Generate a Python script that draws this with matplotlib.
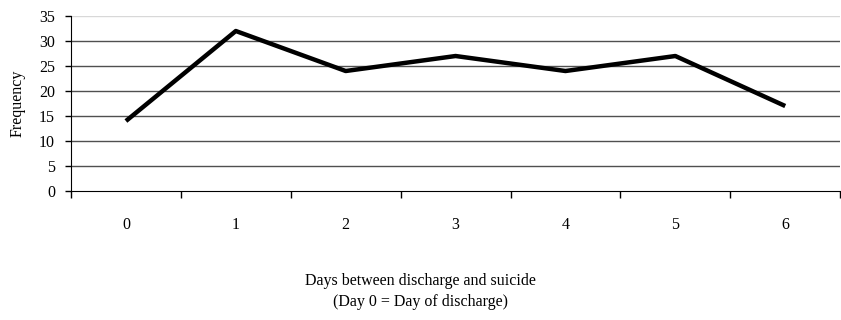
import matplotlib.pyplot as plt

plt.rcParams['font.family'] = ['Liberation Serif', 'DejaVu Serif']

# datos
dias = ["0", "1", "2", "3", "4", "5", "6"]
frecuencia = [14, 32, 24, 27, 24, 27, 17]
y_ticks = [0, 5, 10, 15, 20, 25, 30, 35]

fig = plt.figure(figsize=(8.41, 3.20), dpi=100)
ax = fig.add_axes([0.0844, 0.403, 0.9146, 0.547])

x = list(range(len(dias)))

# lineas de la grilla
for v in y_ticks[1:]:
    color = "#d8d8d8" if v == y_ticks[-1] else "#505050"
    ax.axhline(v, color=color, lw=1.0, zorder=1)

ax.plot(x, frecuencia, color="black", lw=3.2, solid_capstyle="butt", zorder=3)

ax.set_xlim(-0.5, len(dias) - 0.5)
ax.set_ylim(0, 35)
ax.set_yticks(y_ticks)
ax.set_yticklabels([str(v) for v in y_ticks], fontsize=11.5)

# ticks del eje x entre categorias
ax.set_xticks([i - 0.5 for i in range(len(dias) + 1)])
ax.set_xticklabels([])
ax.set_xticks(x, minor=True)
ax.set_xticklabels(dias, minor=True, fontsize=11.5)
ax.tick_params(axis="x", which="major", length=5, color="black", width=1)
ax.tick_params(axis="x", which="minor", length=0, pad=19)
ax.tick_params(axis="y", length=4, width=1, pad=7.5)

for s in ["top", "right"]:
    ax.spines[s].set_visible(False)
ax.spines["left"].set_color("black")
ax.spines["bottom"].set_color("black")

ax.set_ylabel("Frequency", fontsize=11.5, labelpad=10)
fig.text(0.5, 0.03, "Days between discharge and suicide\n(Day 0 = Day of discharge)",
         ha="center", va="bottom", fontsize=11.5, linespacing=1.45)

plt.savefig("out.png", dpi=100)
plt.close()
